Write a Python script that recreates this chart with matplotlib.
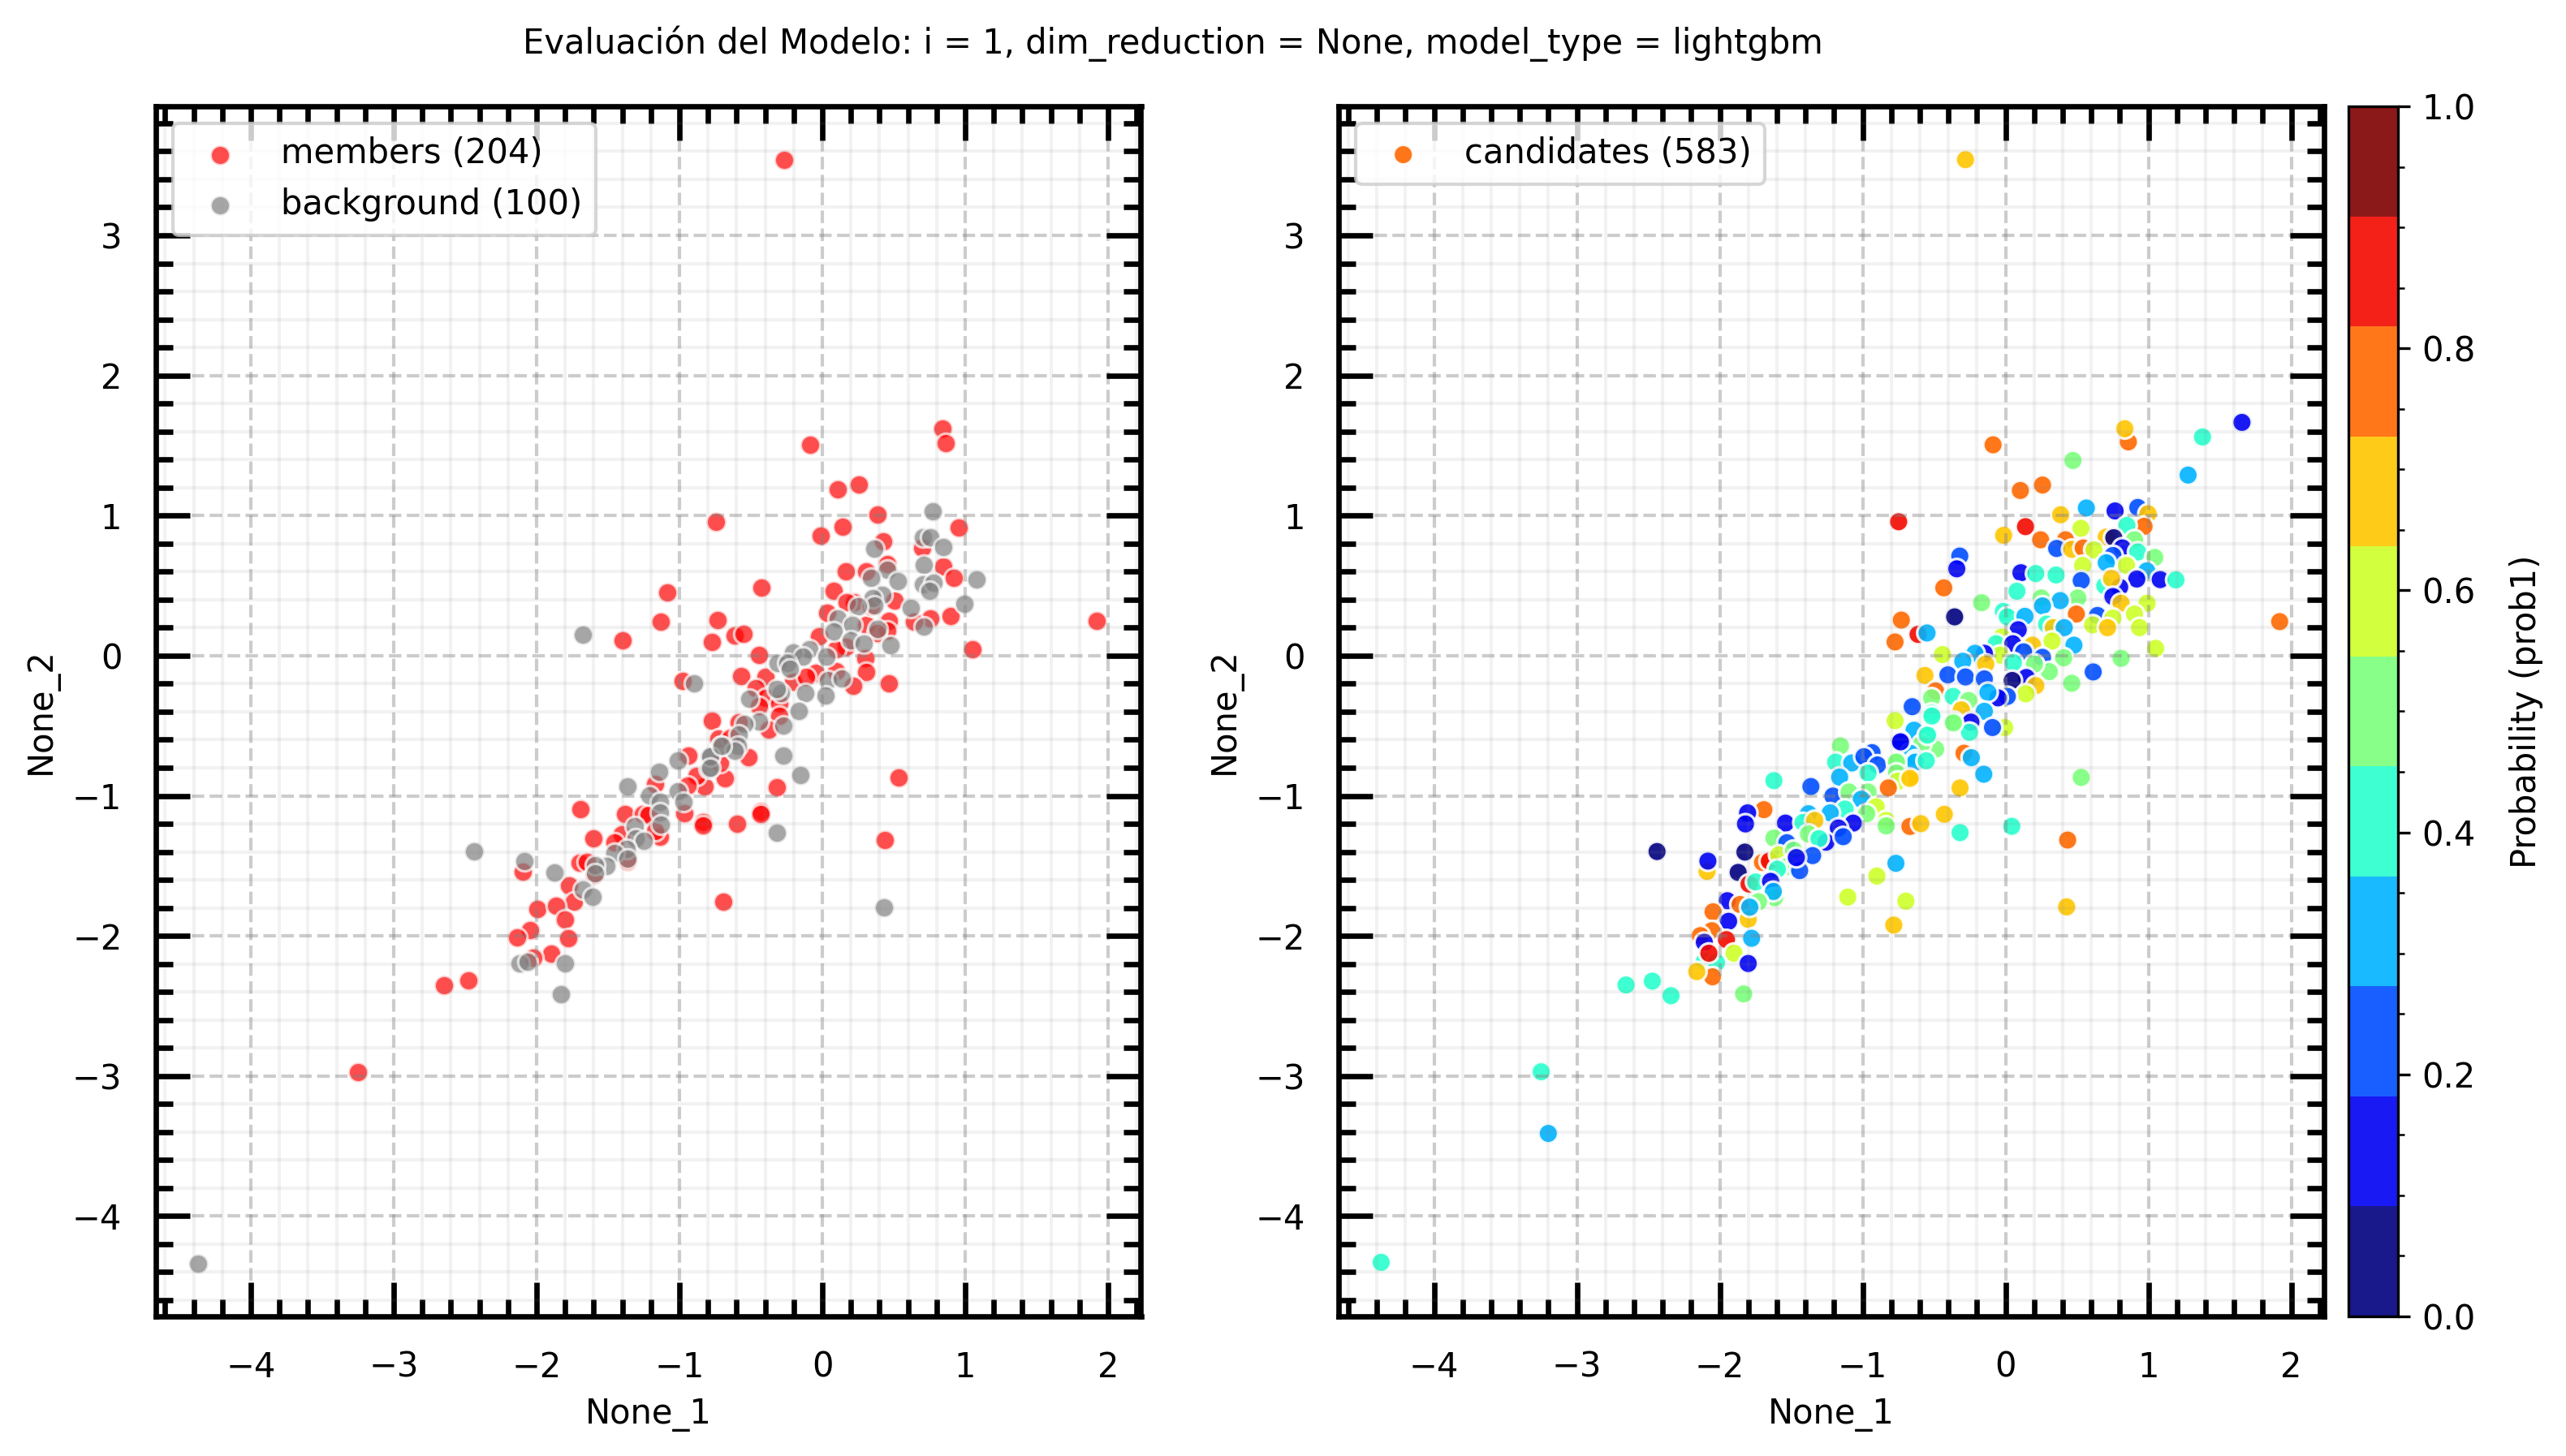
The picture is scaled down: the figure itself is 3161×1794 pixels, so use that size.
import matplotlib
matplotlib.use("Agg")
import matplotlib.pyplot as plt
from matplotlib.ticker import AutoMinorLocator, MultipleLocator

members_x = [-0.27,-3.25,-2.65,-2.48,0.838,0.861,-0.088,0.258,0.108,1.918,-1.40,-1.086,-1.132,0.437,
-0.746,-0.01,0.144,0.388,0.955,0.428,0.70,0.845,0.456,0.922,0.167,0.309,-0.428,0.081,0.504,0.223,0.172,0.034,0.466,0.90,0.754,0.64,-0.731,0.456,0.309,-0.614,-0.551,-0.771,-0.023,1.053,-0.441,0.163,0.097,0.299,0.305,-0.045,0.097,0.216,0.468,-0.566,-0.40,-0.466,-0.396,-0.443,-0.30,-0.30,-0.377,-0.771,-0.585,-0.519,-0.68,-0.822,-0.727,-0.642,0.532,-0.316,-0.43,-0.718,-0.206,-0.112,0.381,0.343,-0.975,
-1.693,-1.604,-1.381,-1.258,-1.214,-1.403,-1.456,-1.699,-1.646,-1.598,-1.362,-1.775,-1.737,-1.996,-1.864,-1.803,-2.044,-2.138,-1.777,-1.898,-2.025,-2.097,-0.936,-1.134,-1.172,-0.964,-0.837,-0.837,-0.595,-0.43,-0.695,-0.879,-0.945,-1.169]
members_y = [3.54,-2.97,-2.35,-2.32,1.62,1.519,1.504,1.223,1.184,0.246,0.11,0.453,0.243,-1.318,
0.955,0.854,0.918,1.005,0.914,0.817,0.77,0.638,0.653,0.553,0.603,0.60,0.483,0.46,0.392,0.383,0.383,0.305,0.247,0.286,0.267,0.242,0.253,0.18,0.218,0.147,0.158,0.095,0.141,0.044,0.006,0.064,0.044,-0.017,-0.118,-0.12,-0.11,-0.216,-0.199,-0.147,-0.153,-0.23,-0.303,-0.361,-0.342,-0.429,-0.526,-0.464,-0.473,-0.723,-0.873,-0.931,-0.593,-0.584,-0.871,-0.941,-1.115,-0.767,-0.187,-0.149,0.16,0.354,-0.18,
-1.095,-1.302,-1.128,-1.128,-1.137,-1.273,-1.331,-1.476,-1.472,-1.563,-1.466,-1.64,-1.756,-1.809,-1.785,-1.886,-1.959,-2.012,-2.017,-2.124,-2.157,-1.54,-0.712,-1.292,-1.253,-1.122,-1.186,-1.211,-1.199,-1.133,-1.756,-0.857,-0.925,-0.915]

background_x = [-4.37,-2.44,-1.677,0.434,-0.90,
0.771,0.362,0.703,0.756,0.848,0.453,0.343,0.528,0.712,1.081,0.703,0.778,0.75,0.419,0.352,0.362,0.248,0.617,0.992,0.106,0.210,0.078,0.386,0.708,0.20,0.29,0.479,-0.093,-0.206,-0.134,0.03,-0.311,-0.244,-0.225,0.04,0.134,0.021,-0.121,-0.292,-0.32,-0.509,-0.165,-0.443,-0.544,-0.271,-0.585,-0.589,-0.708,-0.614,-0.271,-0.153,-0.79,-0.793,
-2.085,-1.873,-1.362,-1.144,-1.011,-1.21,-1.134,-1.011,-0.973,-1.134,-1.129,-1.311,-1.305,-1.248,-1.371,-1.456,-1.362,-1.513,-1.589,-1.589,-1.674,-1.608,-2.119,-2.063,-1.801,-1.831,-0.784,-0.784,-0.703,-0.316]
background_y = [-4.34,-1.398,0.148,-1.794,-0.20,
1.03,0.763,0.846,0.846,0.775,0.614,0.557,0.531,0.647,0.543,0.508,0.518,0.46,0.431,0.412,0.359,0.354,0.34,0.369,0.267,0.218,0.174,0.189,0.209,0.112,0.087,0.073,0.044,0.025,-0.004,-0.004,-0.052,-0.052,-0.095,-0.172,-0.164,-0.284,-0.265,-0.265,-0.236,-0.309,-0.396,-0.468,-0.487,-0.497,-0.564,-0.642,-0.642,-0.68,-0.715,-0.85,-0.719,-0.806,
-1.466,-1.549,-0.934,-0.828,-0.747,-0.998,-1.041,-0.969,-1.041,-1.118,-1.205,-1.215,-1.302,-1.321,-1.379,-1.408,-1.447,-1.499,-1.495,-1.553,-1.669,-1.721,-2.197,-2.182,-2.197,-2.414,-0.721,-0.799,-0.644,-1.263]

candidates_x = [1.919,-0.28,-3.25,-3.2,-4.37,0.86,0.835,-0.087,1.655,1.379,0.472,-2.656,0.044,0.435,0.428,
1.278,0.104,0.259,0.566,0.386,0.767,0.926,0.998,-0.748,0.14,-0.013,0.528,0.97,0.85,0.246,0.42,0.705,0.758,0.903,0.358,0.464,0.544,0.619,0.818,0.752,0.926,1.045,-0.32,-0.341,0.108,0.212,0.354,0.54,0.847,0.705,0.53,0.989,0.919,1.083,1.193,0.695,0.799,0.742,-0.432,0.08,0.752,0.809,0.991,0.903,-0.167,0.25,0.506,0.383,0.259,-0.356,-0.729,-0.015,0.013,0.136,0.496,0.644,0.752,0.61,0.714,0.938,0.288,0.335,0.411,-0.612,-0.549,-0.773,0.089,-0.025,-0.066,0.051,0.326,0.189,0.479,-0.441,0.127,0.259,1.051,-0.038,-0.148,-0.214,0.407,0.809,0.055,-0.138,-0.299,0.307,0.203,0.614,-0.564,-0.403,-0.28,-0.148,0.146,0.212,0.047,0.464,0.142,0.013,-0.053,-0.123,-0.489,-0.517,-0.366,-0.258,-0.653,-0.773,-0.309,-0.148,-0.517,-0.362,-0.242,-0.252,-0.006,-0.091,-0.64,-0.545,-0.735,-0.489,-0.587,-0.669,-0.29,-0.239,-0.631,-0.763,-0.152,0.53,-0.659,-0.773,-0.735,-0.546,-0.515,-0.365,-0.631,-0.555,
-1.155,-1.189,-1.076,-0.934,-0.991,-0.896,-0.763,-0.962,-0.763,-0.754,-0.669,-0.82,-1.161,-1.208,-1.095,-0.962,-1.009,-0.905,-0.972,-1.123,-0.835,-0.835,-1.362,-1.621,-0.669,-0.593,-0.428,-0.318,-0.318,-1.691,-1.805,-1.82,-1.54,-1.379,-1.417,-1.227,-1.066,-1.17,-1.335,-1.379,-1.621,-1.256,-1.136,-1.305,-1.53,-2.439,-1.824,-2.089,-2.083,-1.871,-1.701,-1.653,-1.587,-1.35,-1.483,-1.53,-1.441,-1.464,-1.795,-1.748,-1.597,-1.644,-1.616,-1.625,-1.729,-1.947,-1.858,-2.047,-1.801,-1.79,-1.938,-2.055,-2.136,-2.108,-1.777,-1.953,-1.9,-1.801,-2.108,-2.023,-2.076,-2.051,-2.161,-2.472,-2.341,-1.833,-0.767,-0.9,-1.104,-0.697,-0.782]
candidates_y = [0.243,3.54,-2.97,-3.41,-4.33,1.526,1.62,1.505,1.665,1.561,1.393,-2.35,-1.218,-1.316,-1.793,
1.289,1.179,1.218,1.054,1.006,1.033,1.058,1.013,0.956,0.921,0.859,0.909,0.923,0.929,0.827,0.827,0.846,0.842,0.827,0.765,0.759,0.769,0.755,0.769,0.715,0.74,0.701,0.711,0.62,0.592,0.586,0.576,0.644,0.644,0.663,0.536,0.605,0.547,0.543,0.541,0.499,0.489,0.551,0.484,0.46,0.422,0.374,0.374,0.297,0.378,0.412,0.412,0.393,0.355,0.277,0.254,0.316,0.277,0.281,0.297,0.287,0.268,0.22,0.2,0.2,0.225,0.2,0.2,0.152,0.162,0.098,0.185,0.133,0.085,0.085,0.104,0.075,0.075,0.008,0.027,-0.012,0.052,0.004,0.017,0.017,-0.015,-0.019,-0.05,-0.06,-0.04,-0.114,-0.06,-0.116,-0.141,-0.137,-0.152,-0.166,-0.156,-0.214,-0.177,-0.197,-0.272,-0.291,-0.301,-0.262,-0.252,-0.301,-0.291,-0.32,-0.364,-0.464,-0.387,-0.397,-0.41,-0.468,-0.474,-0.547,-0.513,-0.513,-0.532,-0.57,-0.609,-0.667,-0.632,-0.696,-0.696,-0.728,-0.744,-0.753,-0.846,-0.869,-0.859,-0.84,-0.615,-0.567,-0.431,-0.48,-0.76,-0.75,
-0.644,-0.76,-0.766,-0.692,-0.721,-0.78,-0.76,-0.838,-0.838,-0.896,-0.876,-0.944,-0.867,-1.002,-0.973,-0.973,-1.025,-1.079,-1.128,-1.095,-1.176,-1.215,-0.934,-0.892,-1.219,-1.199,-1.132,-1.263,-0.944,-1.099,-1.122,-1.201,-1.195,-1.128,-1.191,-1.122,-1.195,-1.23,-1.176,-1.273,-1.302,-1.331,-1.292,-1.306,-1.335,-1.398,-1.402,-1.54,-1.466,-1.547,-1.476,-1.466,-1.422,-1.427,-1.389,-1.505,-1.534,-1.441,-1.63,-1.615,-1.524,-1.611,-1.727,-1.683,-1.756,-1.749,-1.776,-1.828,-1.882,-1.795,-1.896,-1.963,-1.998,-2.046,-2.017,-2.027,-2.124,-2.197,-2.182,-2.191,-2.124,-2.292,-2.255,-2.323,-2.427,-2.414,-1.482,-1.573,-1.723,-1.752,-1.923]
candidates_p = [.77,.68,.41,.32,.41,.77,.68,.77,.14,.41,.5,.41,.41,.77,.68,
.32,.77,.77,.32,.68,.14,.23,.68,.86,.86,.68,.59,.77,.41,.77,.77,.68,.05,.5,.23,.68,.77,.59,.14,.23,.41,.5,.23,.14,.14,.41,.41,.59,.59,.32,.23,.32,.14,.14,.41,.41,.14,.68,.77,.41,.14,.68,.59,.59,.5,.5,.5,.32,.32,.05,.77,.41,.41,.32,.77,.23,.59,.59,.68,.59,.41,.68,.32,.86,.32,.77,.14,.59,.41,.14,.59,.68,.32,.59,.23,.23,.59,.59,.14,.32,.5,.5,.41,.68,.32,.5,.5,.23,.68,.23,.23,.23,.14,.68,.05,.5,.59,.23,.14,.32,.77,.5,.41,.5,.23,.59,.68,.32,.41,.5,.14,.41,.59,.23,.32,.41,.14,.5,.5,.32,.77,.32,.32,.5,.32,.5,.68,.5,.14,.41,.41,.5,.32,.41,
.5,.41,.32,.23,.23,.23,.5,.41,.5,.59,.68,.77,.32,.23,.5,.5,.32,.59,.5,.41,.59,.5,.23,.41,.77,.68,.68,.41,.68,.77,.14,.14,.14,.32,.41,.32,.14,.14,.68,.5,.5,.14,.23,.41,.23,.05,.05,.68,.14,.05,.77,.86,.59,.23,.5,.5,.23,.14,.86,.41,.41,.14,.5,.32,.5,.14,.77,.77,.68,.32,.14,.77,.77,.14,.32,.86,.59,.14,.41,.41,.86,.77,.68,.41,.41,.5,.32,.59,.59,.59,.68]

title = "Evaluación del Modelo: i = 1, dim_reduction = None, model_type = lightgbm"
members_label = "members (204)"
background_label = "background (100)"
candidates_label = "candidates (583)"
x_label, y_label, cbar_label = "None_1", "None_2", "Probability (prob1)"

W, H, DPI = 3162, 1794, 300
plt.rcParams["font.family"] = "DejaVu Sans"
plt.rcParams["font.size"] = 10
fig = plt.figure(figsize=(W / DPI, H / DPI), dpi=DPI)

def box(l, r, t=131, b=1622):
    return [l / W, 1 - b / H, (r - l) / W, (b - t) / H]

ax1 = fig.add_axes(box(192, 1405.5))
ax2 = fig.add_axes(box(1649.5, 2863))
cax = fig.add_axes(box(2893, 2954))

SIZE = 34
ax1.scatter(members_x, members_y, s=SIZE, c="red", alpha=0.7, edgecolors="white", linewidths=0.8, label=members_label)
ax1.scatter(background_x, background_y, s=SIZE, c="gray", alpha=0.7, edgecolors="white", linewidths=0.8, label=background_label)
sc = ax2.scatter(candidates_x, candidates_y, s=SIZE, c=candidates_p, cmap=plt.get_cmap("jet", 11), vmin=0, vmax=1,
                 alpha=0.9, edgecolors="white", linewidths=0.8, label=candidates_label)

for ax in (ax1, ax2):
    ax.set_xlim(-4.665, 2.23)
    ax.set_ylim(-4.716, 3.921)
    ax.xaxis.set_major_locator(MultipleLocator(1))
    ax.yaxis.set_major_locator(MultipleLocator(1))
    ax.xaxis.set_minor_locator(AutoMinorLocator(5))
    ax.yaxis.set_minor_locator(AutoMinorLocator(5))
    ax.tick_params(which="major", direction="in", length=10, width=1.6, top=True, right=True)
    ax.tick_params(which="minor", direction="in", length=5, width=1.6, top=True, right=True)
    ax.tick_params(axis="both", which="major", labelsize=10, pad=10)
    ax.grid(True, which="major", linestyle="--", linewidth=1, color="gray", alpha=0.4)
    ax.grid(True, which="minor", linestyle="-", linewidth=1, color="gray", alpha=0.1)
    for s in ax.spines.values():
        s.set_linewidth(1.6)
    ax.set_xlabel(x_label, fontsize=10, labelpad=4)
    ax.set_ylabel(y_label, fontsize=10, labelpad=4)
    ax.legend(loc="upper left", fontsize=10)

cb = fig.colorbar(sc, cax=cax)
cb.set_ticks([0, 0.2, 0.4, 0.6, 0.8, 1.0])
cb.ax.minorticks_on()
cb.ax.tick_params(labelsize=10)
cb.set_label(cbar_label, fontsize=10, labelpad=10)

fig.text(1445 / W, 1 - 54 / H, title, ha="center", va="center", fontsize=10)
fig.savefig("out.png", dpi=DPI)
